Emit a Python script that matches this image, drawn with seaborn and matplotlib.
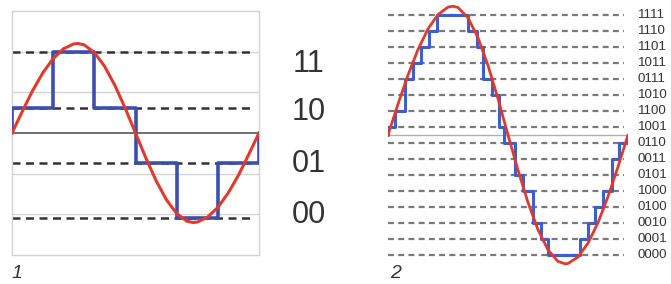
import numpy as np
import pandas as pd
import matplotlib.pyplot as plt
import seaborn as sns

sns.set_style("white")
plt.rcParams["font.family"] = ["Liberation Sans", "DejaVu Sans"]

# panel 1: 2-bit quantisation
p1_x = [0, 0.25, 0.5, 0.75, 1.0, 1.25, 1.5, 1.6, 1.75, 2.0, 2.25, 2.5, 2.75, 3.0,
        3.25, 3.5, 3.75, 4.0, 4.25, 4.4, 4.5, 4.75, 5.0, 5.25, 5.5, 5.75, 6.0]
p1_signal = [0, 0.53, 1.04, 1.48, 1.83, 2.07, 2.19, 2.2, 2.17, 1.98, 1.64, 1.17, 0.61, 0,
             -0.61, -1.17, -1.64, -1.98, -2.17, -2.2, -2.19, -2.07, -1.83, -1.48, -1.04, -0.53, 0]
p1_step_x = [0, 0, 1, 2, 3, 4, 5, 6]
p1_step_y = [0, 0.62, 2.0, 0.62, -0.74, -2.1, -0.74, 0]
p1_levels = [2.0, 0.62, -0.74, -2.1]
p1_codes = ["11", "10", "01", "00"]
p1_code_y = [1.70, 0.52, -0.77, -2.02]

# panel 2: 4-bit quantisation
p2_x = [0, 10, 20, 30, 40, 50, 60, 65, 70, 80, 90, 100, 110, 120,
        130, 140, 150, 160, 170, 177, 180, 190, 200, 210, 220, 230, 240]
p2_signal = [0, 1.93, 3.74, 5.34, 6.63, 7.53, 7.99, 8.05, 7.97, 7.32, 6.08, 4.35, 2.27, 0,
             -2.19, -4.22, -5.92, -7.18, -7.90, -8.05, -8.03, -7.63, -6.76, -5.48, -3.85, -1.99, 0]
p2_step_x = [0, 0, 7, 17, 25, 33, 41, 49, 80, 89, 95, 104, 111, 116, 127, 135, 145, 153, 160,
             192, 200, 207, 215, 224, 231, 240]
p2_step_y = [0, 0.5, 1.5, 3.5, 4.5, 5.5, 6.5, 7.5, 6.5, 5.5, 3.5, 2.5, 0.5, -0.5, -2.5, -3.5,
             -5.5, -6.5, -7.5, -6.5, -5.5, -4.5, -3.5, -1.5, -0.5, 0]
p2_levels = [7.5, 6.5, 5.5, 4.5, 3.5, 2.5, 1.5, 0.5, -0.5, -1.5, -2.5, -3.5, -4.5, -5.5, -6.5, -7.5]
p2_codes = ["1111", "1110", "1101", "1011", "0111", "1010", "1100", "1001",
            "0110", "0011", "0101", "1000", "0100", "0010", "0001", "0000"]

red = "#e03a2c"

fig = plt.figure(figsize=(6.71, 2.84), dpi=100)

# ---- panel 1
ax1 = fig.add_axes([12 / 671, 29 / 284, 247 / 671, 244 / 284])
ax1.set_xlim(0, 6)
ax1.set_ylim(-3, 3)
for g in [-2, -1, 1, 2]:
    ax1.axhline(g, color="#d4d4d4", lw=1, zorder=0)
ax1.axhline(0, color="#6e6e6e", lw=1.4, zorder=1)
ax1.hlines(p1_levels, 0, 5.85, colors="#333333", lw=1.8, linestyles=(0, (3.2, 2.2)), zorder=2)

df1s = pd.DataFrame({"x": p1_step_x, "y": p1_step_y})
sns.lineplot(data=df1s, x="x", y="y", sort=False, estimator=None, drawstyle="steps-post",
             color="#3c4fae", lw=2.6, ax=ax1, zorder=3)
df1 = pd.DataFrame({"x": p1_x, "y": p1_signal})
sns.lineplot(data=df1, x="x", y="y", sort=False, estimator=None, color=red, lw=2.2,
             ax=ax1, zorder=4)
for s in ax1.spines.values():
    s.set_color("#d4d4d4")
    s.set_linewidth(1)
ax1.set_xticks([])
ax1.set_yticks([])
ax1.set_xlabel("")
ax1.set_ylabel("")
for code, yy in zip(p1_codes, p1_code_y):
    ax1.text(7.21, yy, code, fontsize=22, color="#333333", ha="center", va="center",
             clip_on=False)

# ---- panel 2
ax2 = fig.add_axes([388 / 671, 14 / 284, 240 / 671, 270 / 284])
ax2.set_xlim(0, 240)
ax2.set_ylim(-8.4375, 8.4375)
ax2.axis("off")
ax2.axhline(0, color="#b0b0b0", lw=1, zorder=1)
ax2.hlines(p2_levels, 0, 236, colors="#7a7a7a", lw=1.6, linestyles=(0, (2.7, 1.9)), zorder=2)
df2s = pd.DataFrame({"x": p2_step_x, "y": p2_step_y})
sns.lineplot(data=df2s, x="x", y="y", sort=False, estimator=None, drawstyle="steps-post",
             color="#3a5fce", lw=2.2, ax=ax2, zorder=3)
df2 = pd.DataFrame({"x": p2_x, "y": p2_signal})
sns.lineplot(data=df2, x="x", y="y", sort=False, estimator=None, color=red, lw=2.0,
             ax=ax2, zorder=4)
for code, yy in zip(p2_codes, p2_levels):
    ax2.text(250, yy, code, fontsize=9.5, color="#333333", ha="left", va="center",
             clip_on=False)

fig.text(17 / 671, 1 - 274 / 284, "1", fontsize=14, style="italic", color="#333333",
         ha="center", va="center")
fig.text(396 / 671, 1 - 274 / 284, "2", fontsize=14, style="italic", color="#333333",
         ha="center", va="center")

fig.savefig("out.png", dpi=100)
